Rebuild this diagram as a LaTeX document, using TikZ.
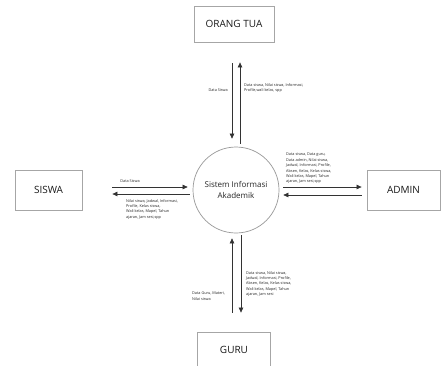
\documentclass[tikz,border=0pt]{standalone}
\usepackage{fontspec}
\setmainfont{Open Sans}
\usetikzlibrary{arrows.meta}
\tikzset{
  entitas/.style={draw=black!35, line width=0.8pt, inner sep=0pt, font=\fontsize{10}{12}\selectfont, text=black!90},
  proses/.style={draw=black!40, line width=0.7pt, circle, minimum size=86pt, inner sep=0pt, align=center, font=\fontsize{8}{11.5}\selectfont, text=black!85},
  alur/.style={draw=black!80, line width=0.6pt, -{Triangle[length=5pt,width=4.5pt]}},
  ket/.style={align=left, inner sep=0pt, font=\fontsize{3.8}{5.4}\selectfont, text=black!85}
}
\begin{document}
\begin{tikzpicture}[x=1pt,y=-1pt]
\useasboundingbox[fill=white] (0,0) rectangle (441,365);
% entitas luar dan proses
\node[entitas, minimum width=80pt, minimum height=36pt] (ortu) at (234,24) {ORANG TUA};
\node[entitas, minimum width=67pt, minimum height=40pt] (siswa) at (48.5,190) {SISWA};
\node[entitas, minimum width=73pt, minimum height=40pt] (admin) at (403.5,190) {ADMIN};
\node[entitas, minimum width=73pt, minimum height=36pt] (guru) at (234,350) {GURU};
\node[proses] (sia) at (236,190) {Sistem Informasi\\Akademik};
% alur data
\draw[alur, shorten <=21pt, shorten >=8pt] ([xshift=-2pt]ortu.south) -- ([xshift=-4pt]sia.north);
\draw[alur, shorten <=3pt, shorten >=20pt] ([xshift=4pt]sia.north) -- ([xshift=6pt]ortu.south);
\draw[alur, shorten <=30pt, shorten >=5pt] ([yshift=3pt]siswa.east) -- ([yshift=3pt]sia.west);
\draw[alur, shorten <=3pt, shorten >=30pt] ([yshift=-4pt]sia.west) -- ([yshift=-4pt]siswa.east);
\draw[alur, shorten <=4pt, shorten >=5pt] ([yshift=3pt]sia.east) -- ([yshift=3pt]admin.west);
\draw[alur, shorten <=5pt, shorten >=4pt] ([yshift=-5pt]admin.west) -- ([yshift=-5pt]sia.east);
\draw[alur, shorten <=19pt, shorten >=5pt] ([xshift=-2pt]guru.north) -- ([xshift=-4pt]sia.south);
\draw[alur, shorten <=2pt, shorten >=19pt] ([xshift=5pt]sia.south) -- ([xshift=7pt]guru.north);
% keterangan
\node[ket, anchor=east] (k1) at (228,90) {Data Siswa};
\node[ket, anchor=north west] (k2) at (244,83) {Data siswa, Nilai siswa, Informasi,\\Profile,wali kelas, spp};
\node[ket] (k3) at (130,181) {Data Siswa};
\node[ket, anchor=north west] (k4) at (126,199) {Nilai siswa, Jadwal, Informasi,\\Profile, Kelas siswa,\\Wali kelas, Mapel, Tahun\\ajaran, Jam sesi,spp};
\node[ket, anchor=south west] (k5) at (286,184) {Data siswa, Data guru,\\Data admin, Nilai siswa,\\Jadwal, Informasi, Profile,\\Absen, Kelas, Kelas siswa,\\Wali kelas, Mapel, Tahun\\ajaran, Jam sesi,spp};
\node[ket, anchor=north west] (k6) at (246,271) {Data siswa, Nilai siswa,\\Jadwal, Informasi, Profile,\\Absen, Kelas, Kelas siswa,\\Wali kelas, Mapel, Tahun\\ajaran, Jam sesi};
\node[ket, anchor=north west] (k7) at (192,292) {Data Guru, Materi,\\Nilai siswa};
\end{tikzpicture}
\end{document}
